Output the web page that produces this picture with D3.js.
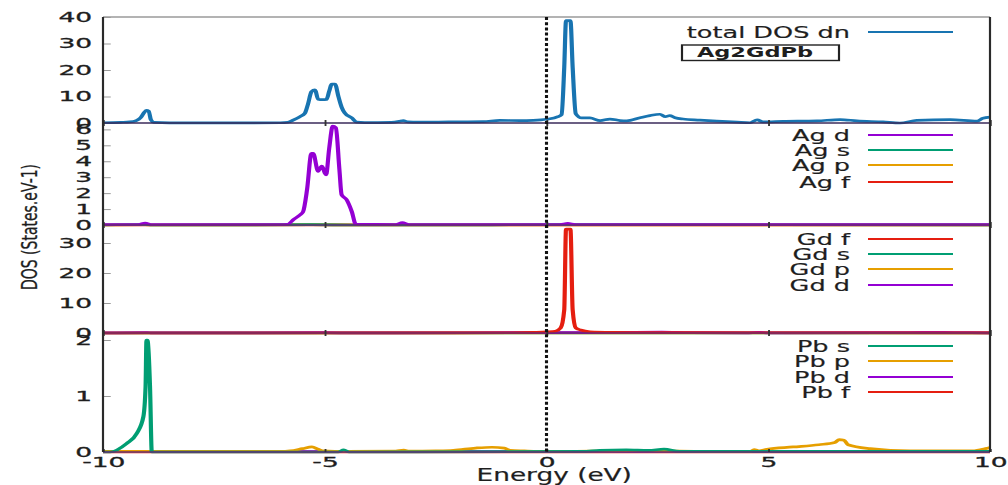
<!DOCTYPE html>
<html>
<head>
<meta charset="utf-8">
<script src="https://cdn.jsdelivr.net/npm/d3@7"></script>
<style>
  html, body { margin: 0; padding: 0; background: #fff; }
  svg { display: block; }
</style>
</head>
<body>
<script>
// ---- data: [energy (eV), DOS (states/eV)] ----
const energyTicks = [-10, -5, 0, 5, 10];
const totalTicks = [0, 10, 20, 30, 40];
const agTicks = [0, 1, 2, 3, 4, 5, 6];
const gdTicks = [0, 10, 20, 30];
const pbTicks = [0, 1, 2];

const totalDn = [[-10,0.1],[-9.6,0.25],[-9.4,0.4],[-9.25,0.9],[-9.15,2.0],[-9.07,4.0],[-9.02,4.8],[-8.97,4.5],[-8.92,1.2],[-8.85,0.2],[-8.5,0.05],[-7.0,0.05],[-6.0,0.1],[-5.83,0.3],[-5.7,1.2],[-5.56,2.4],[-5.45,3.6],[-5.38,7],[-5.30,11.8],[-5.22,12.5],[-5.15,9.0],[-5.05,8.8],[-4.96,8.9],[-4.90,12],[-4.84,14.7],[-4.77,14.7],[-4.69,9.9],[-4.62,6],[-4.55,3.8],[-4.39,1.9],[-4.28,0.3],[-4.1,0.15],[-3.5,0.25],[-3.32,0.6],[-3.23,0.9],[-3.12,0.4],[-2.9,0.3],[-2.2,0.4],[-1.43,0.5],[-1.05,1.0],[-0.6,0.9],[-0.3,1.0],[0.0,1.4],[0.26,2.4],[0.34,3.2],[0.40,21],[0.44,38.6],[0.54,38.6],[0.59,21],[0.66,3.5],[0.79,1.9],[0.98,1.9],[1.21,0.9],[1.43,1.5],[1.66,0.9],[1.81,0.8],[2.11,2.0],[2.33,2.8],[2.56,3.3],[2.68,2.4],[2.78,2.8],[2.9,2.0],[3.08,1.5],[3.46,1.1],[3.84,0.7],[4.3,0.3],[4.59,0.1],[4.75,1.2],[4.88,0.4],[5.33,0.6],[6.1,0.8],[6.62,1.3],[7.0,0.8],[7.59,0.4],[7.97,0.0],[8.35,1.0],[9.1,1.3],[9.71,0.7],[9.84,1.8],[10,2.2]];

const agD = [[-10,0.02],[-9.2,0.03],[-9.05,0.12],[-8.9,0.02],[-6.0,0.02],[-5.83,0.05],[-5.7,0.35],[-5.56,0.63],[-5.49,0.82],[-5.4,2.2],[-5.30,4.5],[-5.26,4.5],[-5.15,3.37],[-5.07,3.7],[-4.97,3.15],[-4.9,4.8],[-4.82,6.2],[-4.75,6.1],[-4.67,3.5],[-4.62,1.9],[-4.51,1.6],[-4.39,0.84],[-4.30,0.05],[-3.4,0.03],[-3.25,0.15],[-3.1,0.03],[0.3,0.03],[0.48,0.1],[0.65,0.03],[10,0.02]];
const agS = [[-10,0],[-9.05,0.03],[-8.9,0],[-5.3,0.02],[-4.3,0],[0.5,0.02],[10,0.01]];
const agP = [[-10,0],[-9.05,0.02],[-8.9,0],[-5.3,0.02],[-4.3,0],[0.5,0.01],[10,0.01]];
const agF = [[-10,0],[-5,0.01],[0.5,0.01],[10,0]];

const gdF = [[-10,0],[-2,0.02],[-0.8,0.08],[-0.3,0.2],[0.0,0.35],[0.2,0.6],[0.32,1.7],[0.40,7.7],[0.44,34.6],[0.54,34.6],[0.59,7.7],[0.66,1.7],[0.77,1.0],[0.98,0.4],[1.5,0.2],[2.5,0.1],[10,0.05]];
const gdS = [[-10,0],[-9.0,0.02],[0.5,0.03],[10,0.01]];
const gdP = [[-10,0],[-5,0.02],[0.5,0.05],[3,0.05],[10,0.02]];
const gdD = [[-10,0.02],[-9.0,0.15],[-8.9,0.02],[-5,0.1],[-4.3,0.02],[0.5,0.15],[1.2,0.1],[2.0,0.25],[2.6,0.3],[3.2,0.15],[4.5,0.05],[4.8,0.2],[5.0,0.05],[7.5,0.1],[8.5,0.25],[9.2,0.15],[10,0.05]];

const pbS = [[-10,0],[-9.84,0.0],[-9.47,0.15],[-9.24,0.33],[-9.09,0.63],[-9.04,1.17],[-9.02,2.0],[-9.0,2.0],[-8.94,1.17],[-8.90,0.0],[-8.5,0.0],[-4.7,0.0],[-4.57,0.04],[-4.45,0.0],[0.8,0.01],[1.2,0.03],[1.8,0.04],[2.3,0.03],[2.65,0.05],[3.0,0.01],[10,0.01]];
const pbP = [[-10,0.01],[-6,0.01],[-5.78,0.02],[-5.5,0.06],[-5.29,0.09],[-5.15,0.05],[-5.05,0.02],[-4.5,0.01],[-3.4,0.015],[-3.22,0.035],[-3.1,0.015],[-2.5,0.02],[-2.1,0.03],[-1.6,0.07],[-1.23,0.085],[-0.95,0.07],[-0.82,0.03],[-0.5,0.02],[0,0.01],[1,0.015],[2,0.02],[3,0.015],[4,0.01],[4.6,0.01],[4.68,0.045],[4.8,0.02],[4.97,0.05],[5.56,0.09],[6.14,0.13],[6.5,0.17],[6.6,0.22],[6.71,0.21],[6.8,0.13],[7.3,0.06],[8.2,0.02],[9.6,0.02],[9.9,0.06],[10,0.08]];
const pbD = [[-10,0.005],[-5,0.008],[0,0.005],[5,0.008],[10,0.005]];
const pbF = [[-10,0],[0,0.003],[10,0]];

// ---- colours ----
const C = { blue: "#1874b1", purple: "#9400d3", green: "#009e73", orange: "#e69f00", red: "#e51e10" };

// ---- layout (the whole drawing is stretched horizontally by SX) ----
const SX = 1.55;
const TX = 1.22;          // extra widening of the numeric tick labels
const FONT = "'DejaVu Sans', sans-serif";
const INK = "#1e1e1e";
const svg = d3.select("body").append("svg").attr("width", 1008).attr("height", 485);
const root = svg.append("g").attr("transform", `scale(${SX},1)`);

const x = d3.scaleLinear().domain([-10, 10]).range([103 / SX, 990 / SX]);
const xL = x(-10), xR = x(10);

const panels = [
  { ticks: totalTicks, domain: [0, 40], top: 17, bottom: 123,
    series: [["total DOS dn", totalDn, C.blue]], order: [0], legendY: [32] },
  { ticks: agTicks, domain: [0, 6.4], top: 123, bottom: 225,
    series: [["Ag d", agD, C.purple], ["Ag s", agS, C.green], ["Ag p", agP, C.orange], ["Ag f", agF, C.red]],
    order: [3, 2, 1, 0], legendY: [135, 150, 165, 182] },
  { ticks: gdTicks, domain: [0, 36], top: 225, bottom: 333,
    series: [["Gd f", gdF, C.red], ["Gd s", gdS, C.green], ["Gd p", gdP, C.orange], ["Gd d", gdD, C.purple]],
    order: [1, 2, 3, 0], legendY: [239, 254, 269, 285] },
  { ticks: pbTicks, domain: [0, 2.125], top: 333, bottom: 452,
    series: [["Pb s", pbS, C.green], ["Pb p", pbP, C.orange], ["Pb d", pbD, C.purple], ["Pb f", pbF, C.red]],
    order: [3, 2, 1, 0], legendY: [346, 361, 377, 392] }
];

// frame: top, left, right
root.append("line").attr("x1", xL).attr("x2", xR).attr("y1", 17).attr("y2", 17)
  .attr("stroke", "#9a9a9a").attr("stroke-width", 1.3);

panels.forEach((p, i) => {
  const y = d3.scaleLinear().domain(p.domain).range([p.bottom, p.top]);

  // y axis
  const ya = root.append("g").attr("transform", `translate(${xL},0)`)
    .call(d3.axisLeft(y).tickValues(p.ticks).tickSize(-5).tickPadding(7).tickFormat(d => String(d)));
  ya.select(".domain").remove();
  ya.selectAll(".tick line").attr("stroke", "#9a9a9a").attr("stroke-width", 1);
  ya.selectAll(".tick text").attr("font-size", 14).attr("font-family", FONT).attr("fill", INK)
    .attr("stroke", INK).attr("stroke-width", 0.3)
    .attr("x", -7 / TX).attr("transform", `scale(${TX},1)`);

  // curves
  const line = d3.line().curve(d3.curveMonotoneX).x(d => x(d[0])).y(d => y(d[1]));
  p.order.forEach(k => {
    const s = p.series[k];
    root.append("path").datum(s[1]).attr("d", line)
      .attr("fill", "none").attr("stroke", s[2]).attr("stroke-width", 2.7)
      .attr("stroke-linejoin", "round");
  });

  // panel baseline, drawn over the near-zero tails
  root.append("line").attr("x1", xL).attr("x2", xR).attr("y1", p.bottom).attr("y2", p.bottom)
    .attr("stroke", i === 0 ? "#3a2a5a" : "#6a2a6e").attr("stroke-width", 1.6);

  // energy ticks on the panel's lower edge
  const xb = root.append("g").attr("transform", `translate(0,${p.bottom})`)
    .call(d3.axisBottom(x).tickValues(energyTicks).tickSize(-3).tickPadding(5)
      .tickFormat(i === panels.length - 1 ? (d => String(d)) : ""));
  xb.select(".domain").remove();
  xb.selectAll(".tick line").attr("stroke", "#333").attr("stroke-width", 1.2);
  xb.selectAll(".tick text").attr("font-size", 14).attr("font-family", FONT).attr("fill", INK)
    .attr("stroke", INK).attr("stroke-width", 0.3).attr("transform", `scale(${TX},1)`);
  if (i > 0) {
    const xt = root.append("g").attr("transform", `translate(0,${p.top})`)
      .call(d3.axisTop(x).tickValues(energyTicks).tickSize(-3).tickFormat(""));
    xt.select(".domain").remove();
    xt.selectAll(".tick line").attr("stroke", "#333").attr("stroke-width", 1.2);
  }

  // legend
  p.series.forEach((s, k) => {
    const ly = p.legendY[k];
    root.append("text").attr("x", 850 / SX).attr("y", ly).attr("dy", "0.36em")
      .attr("text-anchor", "end").attr("font-family", FONT).attr("font-size", 16.5)
      .attr("fill", INK).attr("stroke", INK).attr("stroke-width", 0.2).text(s[0]);
    root.append("line").attr("x1", 868 / SX).attr("x2", 953 / SX).attr("y1", ly).attr("y2", ly)
      .attr("stroke", s[2]).attr("stroke-width", 2);
  });
});

// left axis and right border
root.append("line").attr("x1", xL).attr("x2", xL).attr("y1", 17).attr("y2", 452)
  .attr("stroke", "#2a2a2a").attr("stroke-width", 1.4);
root.append("line").attr("x1", xR).attr("x2", xR).attr("y1", 17).attr("y2", 452)
  .attr("stroke", "#2a2a2a").attr("stroke-width", 1.4);

// compound label box
root.append("rect").attr("x", 682 / SX).attr("y", 45).attr("width", (839 - 682) / SX).attr("height", 15.5)
  .attr("fill", "none").attr("stroke", "#222").attr("stroke-width", 1.4);
root.append("text").attr("x", 755 / SX).attr("y", 57.5).attr("text-anchor", "middle")
  .attr("font-family", FONT).attr("font-weight", "bold").attr("font-size", 14.5)
  .attr("fill", INK).text("Ag2GdPb");

// Fermi level
root.append("line").attr("x1", x(0)).attr("x2", x(0)).attr("y1", 17).attr("y2", 452)
  .attr("stroke", "#111").attr("stroke-width", 2).attr("stroke-dasharray", "3,2.2");

// axis titles
root.append("text").attr("x", (xL + xR) / 2 + 5).attr("y", 481).attr("text-anchor", "middle")
  .attr("font-family", FONT).attr("font-size", 17).attr("fill", INK)
  .attr("stroke", INK).attr("stroke-width", 0.2).text("Energy (eV)");
root.append("text").attr("transform", `translate(${37 / SX},227) rotate(-90)`).attr("text-anchor", "middle")
  .attr("font-family", FONT).attr("font-size", 14).attr("fill", INK)
  .attr("stroke", INK).attr("stroke-width", 0.2).text("DOS (States.eV-1)");
</script>
</body>
</html>
